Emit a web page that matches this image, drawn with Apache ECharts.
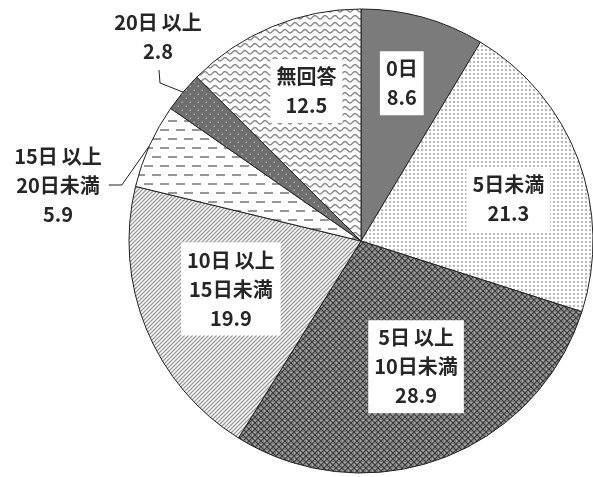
<!DOCTYPE html>
<html>
<head>
<meta charset="utf-8">
<script src="https://cdn.jsdelivr.net/npm/echarts@6.0.0/dist/echarts.min.js"></script>
<style>
  html, body { margin: 0; padding: 0; background: #fff; }
  #pieChart { width: 593px; height: 477px; }
</style>
</head>
<body>
<div id="pieChart"></div>
<script>
  // 区分と割合(%)
  const categories = ['0日', '5日未満', '5日\u2009以上\n10日未満', '10日\u2009以上\n15日未満', '15日\u2009以上\n20日未満', '20日\u2009以上', '無回答']
  const values = [8.6, 21.3, 28.9, 19.9, 5.9, 2.8, 12.5]

  // ラベル位置の微調整 (内側ラベルは dx/dy、外側ラベルは中心座標)
  const innerLabelShift = [[9, -43], [36, 0], [14, 14], [-20, 3], null, null, [-9, -40]]
  const outerLabelPos = { 4: [58, 185], 5: [158, 37] }

  function makeTile(w, h, draw) {
    let c = document.createElement('canvas')
    c.width = w
    c.height = h
    let g = c.getContext('2d')
    draw(g)
    return { image: c, repeat: 'repeat' }
  }

  // 各扇形の網掛けパターン
  const fills = [
    '#7b7b7b',
    makeTile(4, 4, g => {
      g.fillStyle = '#fff'; g.fillRect(0, 0, 4, 4)
      g.fillStyle = '#b8b8b8'; g.fillRect(1, 1, 2, 2)
    }),
    makeTile(6, 6, g => {
      g.fillStyle = '#7c7c7c'; g.fillRect(0, 0, 6, 6)
      g.strokeStyle = '#3c3c3c'; g.lineWidth = 1
      g.beginPath()
      g.moveTo(0, 0); g.lineTo(6, 6)
      g.moveTo(6, 0); g.lineTo(0, 6)
      g.stroke()
      g.fillStyle = '#cfcfcf'
      g.fillRect(2.5, 0, 1, 1); g.fillRect(0, 2.5, 1, 1)
    }),
    makeTile(4, 4, g => {
      g.fillStyle = '#fff'; g.fillRect(0, 0, 4, 4)
      g.strokeStyle = '#9a9a9a'; g.lineWidth = 1.3
      g.beginPath()
      g.moveTo(-4, 4); g.lineTo(4, -4)
      g.moveTo(0, 4); g.lineTo(4, 0)
      g.moveTo(0, 8); g.lineTo(8, 0)
      g.stroke()
    }),
    makeTile(16, 18, g => {
      g.fillStyle = '#fff'; g.fillRect(0, 0, 16, 18)
      g.fillStyle = '#979797'
      g.fillRect(0, 3, 9, 2)
      g.fillRect(8, 12, 9, 2); g.fillRect(-8, 12, 9, 2)
    }),
    makeTile(8, 8, g => {
      g.fillStyle = '#6f6f6f'; g.fillRect(0, 0, 8, 8)
      g.fillStyle = '#a8a8a8'
      g.fillRect(1.5, 1.5, 1.5, 1.5); g.fillRect(5.5, 5.5, 1.5, 1.5)
    }),
    makeTile(10, 7, g => {
      g.fillStyle = '#fff'; g.fillRect(0, 0, 10, 7)
      g.strokeStyle = '#8a8a8a'; g.lineWidth = 1.3
      g.beginPath()
      g.moveTo(0, 5)
      g.bezierCurveTo(2, 5, 3, 1.5, 5, 1.5)
      g.bezierCurveTo(7, 1.5, 8, 5, 10, 5)
      g.stroke()
    })
  ]

  let pieChart = echarts.init(document.getElementById('pieChart'))

  let seriesData = categories.map((name, i) => {
    let item = { name: name, value: values[i], itemStyle: { color: fills[i] } }
    if (outerLabelPos[i]) {
      item.label = { position: 'outside', backgroundColor: 'transparent' }
      item.labelLine = { show: true, lineStyle: { color: '#222', width: 1 } }
    }
    return item
  })

  pieChart.setOption({
    animation: false,
    series: [{
      type: 'pie',
      center: [361, 241],
      radius: 232,
      startAngle: 90,
      clockwise: true,
      avoidLabelOverlap: false,
      emphasis: { disabled: true },
      itemStyle: {
        borderColor: '#222',
        borderWidth: 1
      },
      label: {
        position: 'inside',
        formatter: '{b}\n{c}',
        color: '#262626',
        fontSize: 20,
        fontWeight: 'bold',
        lineHeight: 29,
        fontFamily: "'Noto Sans CJK JP', sans-serif",
        backgroundColor: '#fff',
        padding: [3, 6]
      },
      labelLine: { show: false },
      labelLayout: function (params) {
        let i = params.dataIndex
        if (outerLabelPos[i]) {
          let x = outerLabelPos[i][0]
          let y = outerLabelPos[i][1]
          let w = params.labelRect.width
          let h = params.labelRect.height
          let p0 = params.labelLinePoints[0]
          let pts = i === 5
            ? [p0, [x + 2, y + h / 2 + 14], [x + 1, y + h / 2 + 1]]
            : [p0, [x + w / 2 + 14, y], [x + w / 2 + 1, y]]
          return { x: x, y: y, align: 'center', verticalAlign: 'middle', labelLinePoints: pts }
        }
        let s = innerLabelShift[i]
        return { dx: s[0], dy: s[1] }
      },
      data: seriesData
    }]
  })
</script>
</body>
</html>
